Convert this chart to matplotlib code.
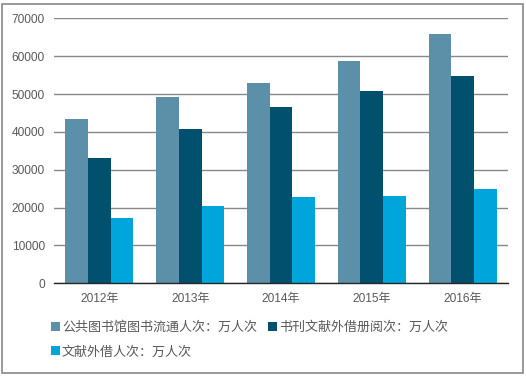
import numpy as np
import matplotlib
matplotlib.use('Agg')
import matplotlib.pyplot as plt
from matplotlib.patches import Rectangle

plt.rcParams['font.family'] = ['Noto Sans CJK SC', 'DejaVu Sans']

# data
years = ['2012年', '2013年', '2014年', '2015年', '2016年']
circulation = [43400, 49200, 52900, 58700, 65800]   # 公共图书馆图书流通人次
lending = [33100, 40800, 46600, 50800, 54800]       # 书刊文献外借册阅次
borrowers = [17200, 20400, 22800, 23100, 24900]     # 文献外借人次
series_names = ['公共图书馆图书流通人次：万人次', '书刊文献外借册阅次：万人次', '文献外借人次：万人次']
colors = ['#5B90A8', '#00506E', '#00A5DB']
text_color = '#595959'
tick_font = ['Liberation Sans', 'Noto Sans CJK SC']

fig = plt.figure(figsize=(5.26, 3.80), dpi=100)
ax = fig.add_axes([0.1027, 0.2545, 0.8631, 0.6973])

x = np.arange(len(years))
w = 0.25
bars = []
for i, (vals, name) in enumerate(zip([circulation, lending, borrowers], series_names)):
    b = ax.bar(x + (i - 1) * w, vals, width=w, color=colors[i], label=name, zorder=3)
    bars.append(b)

ax.set_xlim(-0.5, len(years) - 0.5)
ax.set_ylim(0, 70000)
ax.set_yticks(range(0, 70001, 10000))
ax.set_xticks(x)
ax.set_xticklabels(years)
for lbl in ax.get_xticklabels() + ax.get_yticklabels():
    lbl.set_family(tick_font)
ax.yaxis.grid(True, color='#888888', linewidth=1.0, zorder=0)
ax.set_axisbelow(True)
for s in ['top', 'right', 'left']:
    ax.spines[s].set_visible(False)
ax.spines['bottom'].set_color('#262626')
ax.spines['bottom'].set_linewidth(1.0)
ax.spines['bottom'].set_zorder(4)
ax.tick_params(axis='both', length=0, labelsize=8.6, colors=text_color)
ax.tick_params(axis='y', pad=6.5)
ax.tick_params(axis='x', pad=7)

# legend: reorder so that items fill row by row
handles = [bars[0], bars[2], bars[1]]
labels = [series_names[0], series_names[2], series_names[1]]
fig.legend(handles, labels, ncol=2, loc='upper left',
           bbox_to_anchor=(0.097, 0.156), frameon=False,
           fontsize=9.4, labelcolor=text_color,
           handlelength=0.69, handleheight=0.69, handletextpad=0.15,
           columnspacing=0.84, labelspacing=0.9, borderaxespad=0, borderpad=0)

# outer border
fig.patches.append(Rectangle((2 / 526, 1 - 373 / 380), 521 / 526, 369 / 380,
                             transform=fig.transFigure, fill=False,
                             edgecolor='#888888', linewidth=1.2))

fig.savefig('out.png', dpi=100)
